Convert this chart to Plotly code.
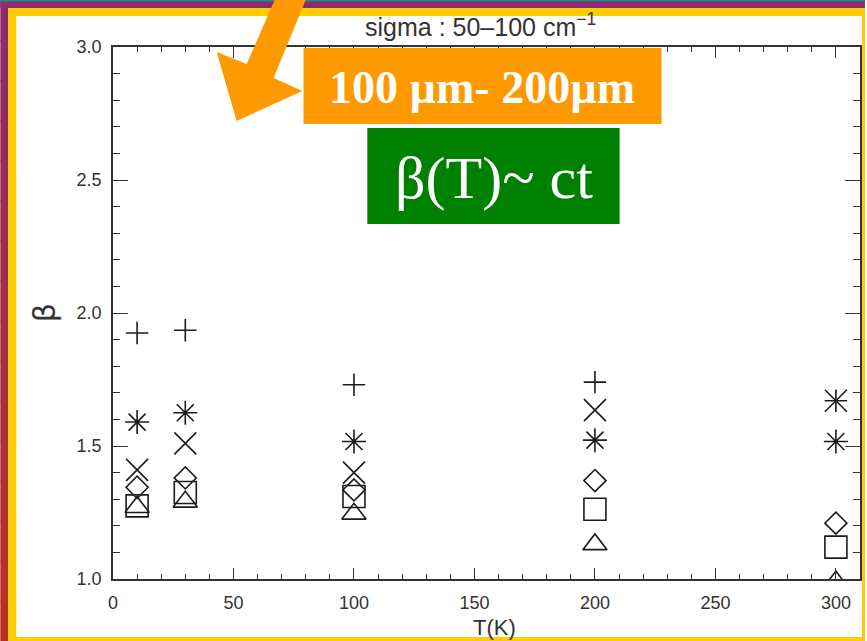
import plotly.graph_objects as go

# ---------------- data ----------------
temps = [10, 30, 100, 200, 300]
beta_plus = [1.925, 1.935, 1.73, 1.74, 1.67]
beta_x = [1.41, 1.51, 1.40, 1.635, 1.67]
beta_ast = [1.59, 1.625, 1.517, 1.522, 1.517]
beta_diamond = [1.345, 1.38, 1.335, 1.37, 1.21]
beta_square = [1.275, 1.325, 1.31, 1.262, 1.12]
beta_triangle = [1.27, 1.29, 1.245, 1.13, 0.99]

x_ticks = [0, 50, 100, 150, 200, 250, 300]
y_ticks = [1.0, 1.5, 2.0, 2.5, 3.0]

title_text = "sigma : 50–100 cm<sup>−1</sup>"
x_title = "T(K)"
y_title = "β"
box1_text = "<b>100 µm- 200µm</b>"
box2_text = "β(T)~ ct"

# ---------------- geometry helpers (pixels -> paper) ----------------
W, H = 867, 641
L, R, T, B = 113, 862, 47, 579


def fx(p):
    return (p - L) / (R - L)


def fy(p):
    return (B - p) / (B - T)


ink = "#1c1c1c"
series = [
    (beta_plus, "cross-thin", 16),
    (beta_x, "x-thin", 22),
    (beta_ast, "asterisk", 20),
    (beta_diamond, "diamond-open", 17),
    (beta_square, "square-open", 22),
    (beta_triangle, "triangle-up-open", 21),
]

fig = go.Figure()
for vals, sym, sz in series:
    fig.add_trace(go.Scatter(
        x=temps, y=vals, mode="markers", cliponaxis=True, showlegend=False,
        marker=dict(symbol=sym, size=sz, color=ink,
                    line=dict(color=ink, width=1.6)),
    ))

shapes = []


def rect(x0, y0, x1, y1, color, layer="above"):
    shapes.append(dict(type="rect", xref="paper", yref="paper",
                       x0=fx(x0), x1=fx(x1), y0=fy(y1), y1=fy(y0),
                       fillcolor=color, line=dict(width=0), layer=layer))


# outer gradient strip on left (purple -> red)
top_c = (140, 44, 106)
bot_c = (184, 50, 32)
n = 16
for i in range(n):
    t = i / (n - 1)
    c = tuple(round(top_c[k] + (bot_c[k] - top_c[k]) * t) for k in range(3))
    rect(0, H * i / n, 8, H * (i + 1) / n + 1, "rgb(%d,%d,%d)" % c)
# top strip
rect(0, 0, W, 8, "rgb(140,44,106)")
rect(0, 0, W, 1.5, "rgb(30,140,140)")
# yellow frame
yel = "#FFCC00"
rect(8, 8, 16, H, yel)
rect(8, 8, W, 16, yel)
rect(864, 8, W, H, yel)
rect(8, 637, W, H, yel)

# orange arrow
orange = "#FF9900"
pts = [(276, -2), (307, -2), (274, 78), (303, 91), (237, 121), (217, 52), (247, 64)]
path = "M " + " L ".join("%f,%f" % (fx(a), fy(b)) for a, b in pts) + " Z"
shapes.append(dict(type="path", xref="paper", yref="paper", path=path,
                   fillcolor=orange, line=dict(width=0), layer="above"))
# boxes
rect(304, 48, 663, 124, orange)
rect(368, 128, 621, 224, "#008000")

annotations = [
    dict(text=title_text, x=fx(481), y=fy(25), xref="paper", yref="paper",
         showarrow=False, xanchor="center", yanchor="middle",
         font=dict(family="Liberation Sans", size=25, color="#333")),
    dict(text=x_title, x=fx(496), y=fy(627), xref="paper", yref="paper",
         showarrow=False, xanchor="center", yanchor="middle",
         font=dict(family="Liberation Sans", size=22, color="#333")),
    dict(text=y_title, x=fx(44), y=0.5, xref="paper", yref="paper",
         showarrow=False, xanchor="center", yanchor="middle", textangle=-90,
         font=dict(family="DejaVu Sans", size=30, color="#333")),
    dict(text=box1_text, x=fx(483), y=fy(88), xref="paper", yref="paper",
         showarrow=False, xanchor="center", yanchor="middle",
         font=dict(family="Liberation Serif", size=46, color="white")),
    dict(text=box2_text, x=fx(495), y=fy(178), xref="paper", yref="paper",
         showarrow=False, xanchor="center", yanchor="middle",
         font=dict(family="Liberation Serif", size=60, color="white")),
]

axis_common = dict(showgrid=False, zeroline=False, showline=True,
                   linecolor="#333", linewidth=1.5, mirror="ticks",
                   ticks="inside", tickcolor="#333", tickwidth=1.3,
                   tickfont=dict(family="Liberation Sans", size=18, color="#333"))

fig.update_layout(
    width=W, height=H,
    margin=dict(l=L, r=W - R, t=T, b=H - B, pad=0),
    paper_bgcolor="white", plot_bgcolor="rgba(0,0,0,0)",
    shapes=shapes, annotations=annotations,
    xaxis=dict(range=[0, 310], tickvals=x_ticks, ticklen=11,
               ticklabelstandoff=7,
               minor=dict(dtick=10, tick0=0, ticklen=5.5, ticks="inside",
                          tickcolor="#333", tickwidth=1.3),
               **axis_common),
    yaxis=dict(range=[1.0, 3.0], tickvals=y_ticks, ticklen=15,
               tickformat=".1f", ticklabelstandoff=6,
               minor=dict(dtick=0.1, tick0=1.0, ticklen=7.5, ticks="inside",
                          tickcolor="#333", tickwidth=1.3),
               **axis_common),
)

fig.write_html(
    "out.html",
    config={"displayModeBar": False},
    post_script="document.body.style.margin='0px';document.body.style.overflow='hidden';",
)
